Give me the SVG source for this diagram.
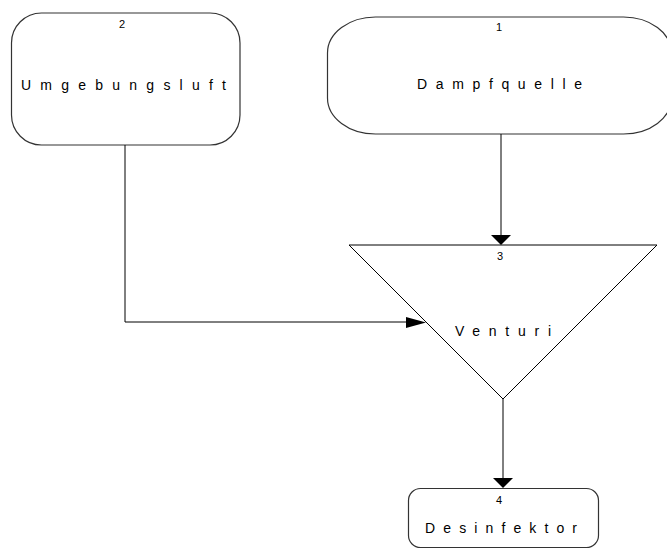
<svg xmlns="http://www.w3.org/2000/svg" width="667" height="550" viewBox="0 0 667 550">
<style>
.box{fill:#fff;stroke:#333;stroke-width:1.2}
.tri{fill:#fff;stroke:#000;stroke-width:1}
.lbl{font-family:"Liberation Sans",Arial,sans-serif;font-size:14px;fill:#000}
.num{font-family:"Liberation Sans",Arial,sans-serif;font-size:11px;fill:#000;text-anchor:middle}
.conn{fill:none;stroke:#000;stroke-width:1}
.head{fill:#000;stroke:none}
</style>
<rect width="667" height="550" fill="#fff"/>
<g id="node2">
<rect class="box" x="11.5" y="13" width="228.5" height="132" rx="30" ry="30"/>
<text class="num" x="122" y="28">2</text>
<text class="lbl" x="21" y="90" textLength="205" lengthAdjust="spacing">Umgebungsluft</text>
</g>
<g id="node1">
<rect class="box" x="327.5" y="17" width="344" height="117" rx="48" ry="36"/>
<text class="num" x="499" y="31">1</text>
<text class="lbl" x="417" y="89" textLength="165" lengthAdjust="spacing">Dampfquelle</text>
</g>
<g id="node3">
<polygon class="tri" points="349,245 657,245 503,399"/>
<text class="num" x="500" y="260">3</text>
<text class="lbl" x="455" y="336" textLength="96" lengthAdjust="spacing">Venturi</text>
</g>
<g id="node4">
<rect class="box" x="408.5" y="488.5" width="190" height="59" rx="12" ry="12"/>
<text class="num" x="499" y="504">4</text>
<text class="lbl" x="425" y="533" textLength="152" lengthAdjust="spacing">Desinfektor</text>
</g>
<g id="connectors">
<path class="conn" d="M501,134 V236"/>
<polygon class="head" points="491,235 511,235 501,245"/>
<path class="conn" d="M125,145 V322 H408"/>
<polygon class="head" points="406,317 426,322.5 406,328"/>
<path class="conn" d="M503,399 V479"/>
<polygon class="head" points="493,478 513,478 503,488"/>
</g>
</svg>
